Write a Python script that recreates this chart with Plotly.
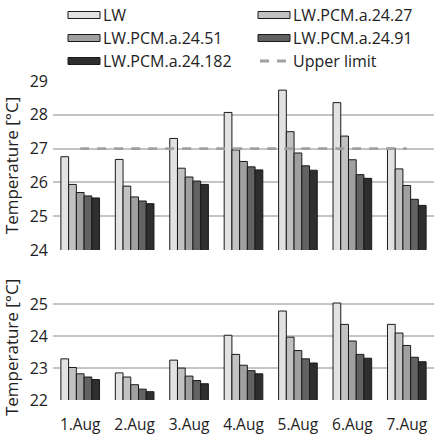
import plotly.graph_objects as go

days = ["1.Aug", "2.Aug", "3.Aug", "4.Aug", "5.Aug", "6.Aug", "7.Aug"]
series_names = ["LW", "LW.PCM.a.24.27", "LW.PCM.a.24.51", "LW.PCM.a.24.91", "LW.PCM.a.24.182"]
series_colors = ["#e2e2e2", "#c2c2c2", "#a0a0a0", "#626262", "#2e2e2e"]

# Top panel values
top_lw = [26.76, 26.68, 27.30, 28.07, 28.73, 28.36, 27.01]
top_27 = [25.94, 25.89, 26.42, 26.96, 27.50, 27.37, 26.40]
top_51 = [25.70, 25.57, 26.16, 26.62, 26.87, 26.67, 25.91]
top_91 = [25.60, 25.45, 26.04, 26.46, 26.49, 26.23, 25.50]
top_182 = [25.54, 25.37, 25.94, 26.37, 26.36, 26.12, 25.32]

# Bottom panel values
bot_lw = [23.29, 22.85, 23.25, 24.03, 24.79, 25.04, 24.37]
bot_27 = [23.02, 22.72, 23.00, 23.43, 23.97, 24.37, 24.10]
bot_51 = [22.82, 22.48, 22.75, 23.09, 23.55, 23.85, 23.71]
bot_91 = [22.72, 22.34, 22.61, 22.92, 23.29, 23.43, 23.34]
bot_182 = [22.64, 22.26, 22.51, 22.82, 23.16, 23.31, 23.20]

upper_limit = 27
upper_name = "Upper limit"

top_series = [top_lw, top_27, top_51, top_91, top_182]
bot_series = [bot_lw, bot_27, bot_51, bot_91, bot_182]

FONT = "Open Sans"
W, H = 436, 438
ML, MR, MT, MB = 53, 2, 81, 38
PW, PH = W - ML - MR, H - MT - MB

fig = go.Figure()

for name, col, vals in zip(series_names, series_colors, top_series):
    fig.add_trace(go.Bar(x=days, y=vals, name=name, marker=dict(color=col, line=dict(color="#1a1a1a", width=1)),
                         xaxis="x2", yaxis="y2", showlegend=False))
for name, col, vals in zip(series_names, series_colors, bot_series):
    fig.add_trace(go.Bar(x=days, y=vals, name=name, marker=dict(color=col, line=dict(color="#1a1a1a", width=1)),
                         xaxis="x", yaxis="y", showlegend=False))

fig.add_trace(go.Scatter(x=days, y=[upper_limit] * len(days), mode="lines", name=upper_name,
                         line=dict(color="#a0a0a0", width=2.8, dash="9px,8px"),
                         xaxis="x2", yaxis="y2", showlegend=False))

def px_to_paper_x(px):
    return (px - ML) / PW

def px_to_paper_y(py):
    return (H - MB - py) / PH

# custom legend
shapes = []
annotations = []
legend_items = [(n, c, "bar") for n, c in zip(series_names, series_colors)] + [(upper_name, "#a0a0a0", "line")]
col_x = [68, 258]
row_y = [15, 38, 61]
for i, (name, col, kind) in enumerate(legend_items):
    cx = col_x[i % 2]
    cy = row_y[i // 2]
    if kind == "bar":
        shapes.append(dict(type="rect", xref="paper", yref="paper",
                           x0=px_to_paper_x(cx), x1=px_to_paper_x(cx + 32),
                           y0=px_to_paper_y(cy + 3.5), y1=px_to_paper_y(cy - 3.5),
                           fillcolor=col, line=dict(color="#1a1a1a", width=1)))
    else:
        shapes.append(dict(type="line", xref="paper", yref="paper",
                           x0=px_to_paper_x(cx + 2), x1=px_to_paper_x(cx + 32),
                           y0=px_to_paper_y(cy), y1=px_to_paper_y(cy),
                           line=dict(color=col, width=2.8, dash="9px,8px")))
    annotations.append(dict(text=name, xref="paper", yref="paper", x=px_to_paper_x(cx + 33),
                            y=px_to_paper_y(cy), xanchor="left", yanchor="middle", showarrow=False,
                            font=dict(family=FONT, size=16, color="#222222")))

top_bottom = 250
bot_top = 400 - 3.3 * 31.9

fig.update_layout(
    width=W, height=H,
    margin=dict(l=ML, r=MR, t=MT, b=MB),
    paper_bgcolor="white", plot_bgcolor="white",
    barmode="group", bargap=0.29, bargroupgap=0,
    font=dict(family=FONT, size=15, color="#222222"),
    shapes=shapes, annotations=annotations,
    showlegend=False,
    xaxis=dict(domain=[0, 1], anchor="y", showgrid=False, showline=False, ticks="",
               tickfont=dict(size=15.5), ticklabelstandoff=13),
    xaxis2=dict(domain=[0, 1], anchor="y2", matches="x", showgrid=False, showline=False,
                showticklabels=False, ticks=""),
    yaxis=dict(domain=[0, px_to_paper_y(bot_top)], range=[22, 25.3], tickvals=[22, 23, 24, 25],
               showgrid=True, gridcolor="#c4c4c4", gridwidth=1.5, zeroline=False, showline=False,
               ticks="", tickfont=dict(size=16), ticklabelstandoff=4,
               title=dict(text="Temperature [°C]", font=dict(size=17), standoff=6)),
    yaxis2=dict(domain=[px_to_paper_y(top_bottom), 1], range=[24, 29], dtick=1,
                showgrid=True, gridcolor="#c4c4c4", gridwidth=1.5, zeroline=False, showline=False,
                ticks="", tickfont=dict(size=16), ticklabelstandoff=4,
                title=dict(text="Temperature [°C]", font=dict(size=17), standoff=6)),
)

fig.write_html("out.html")
